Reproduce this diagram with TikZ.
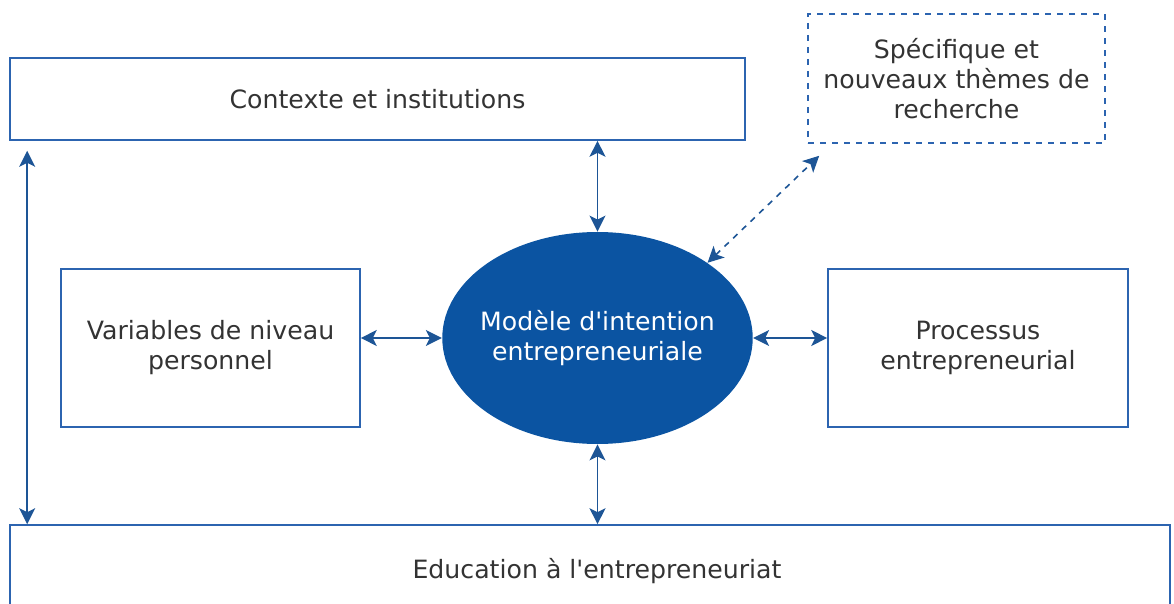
\documentclass[tikz,border=0pt]{standalone}
\usepackage{fontspec}
\setmainfont{DejaVu Sans}
\usetikzlibrary{arrows.meta,shapes.geometric}

\definecolor{boxblue}{HTML}{2C64B0}
\definecolor{arrowblue}{HTML}{1D5596}
\definecolor{ellblue}{HTML}{0B54A2}
\definecolor{txtgray}{HTML}{333333}

\tikzset{
	box/.style={rectangle, draw=boxblue, line width=0.8pt, text=txtgray, align=center, font=\fontsize{12.6}{15}\selectfont},
	dashbox/.style={box, dashed},
	core/.style={ellipse, fill=ellblue, text=white, align=center, inner xsep=-3.8pt, inner ysep=0pt, font=\fontsize{12.6}{15}\selectfont},
	arr/.style={arrowblue, line width=0.8pt, {Stealth[length=8pt,width=8pt,inset=2pt]}-{Stealth[length=8pt,width=8pt,inset=2pt]}}
}

\begin{document}
\begin{tikzpicture}[x=0.5pt, y=-0.5pt]
		\useasboundingbox (0,0) rectangle (1174,604);

		\node[box, minimum width=367.5pt, minimum height=41pt] (context) at (377.5,99) {Contexte et institutions};
		\node[dashbox, minimum width=148.5pt, minimum height=64.5pt] (themes) at (956.5,78.5) {Spécifique et\\nouveaux thèmes de\\recherche};

		\node[box, minimum width=149.5pt, minimum height=79pt] (personal) at (210.5,348) {Variables de niveau\\personnel};
		\node[core, minimum width=154.5pt, minimum height=106pt] (model) at (597.5,338) {Modèle d\textquotesingle intention\\entrepreneuriale};
		\node[box, minimum width=150pt, minimum height=79pt] (process) at (978,348) {Processus\\entrepreneurial};

		\node[box, minimum width=580pt, minimum height=50pt] (education) at (590,575) {};
		\node[text=txtgray, font=\fontsize{12.6}{15}\selectfont] (edutext) at (597,571) {Education à l\textquotesingle entrepreneuriat};

		\draw[arr, shorten <=5pt] ([xshift=9pt]context.south west) -- ([xshift=9pt]education.north west);
		\draw[arr] (context.south -| model.north) -- (model.north);
		\draw[arr] (model.south) -- (education.north -| model.south);

		\draw[arr] (personal.east |- model.west) -- (model.west);
		\draw[arr] (model.east) -- (process.west |- model.east);

		\draw[arr, dashed] (model.north east) -- ([xshift=6pt, yshift=-6pt]themes.south west);
	\end{tikzpicture}
\end{document}
